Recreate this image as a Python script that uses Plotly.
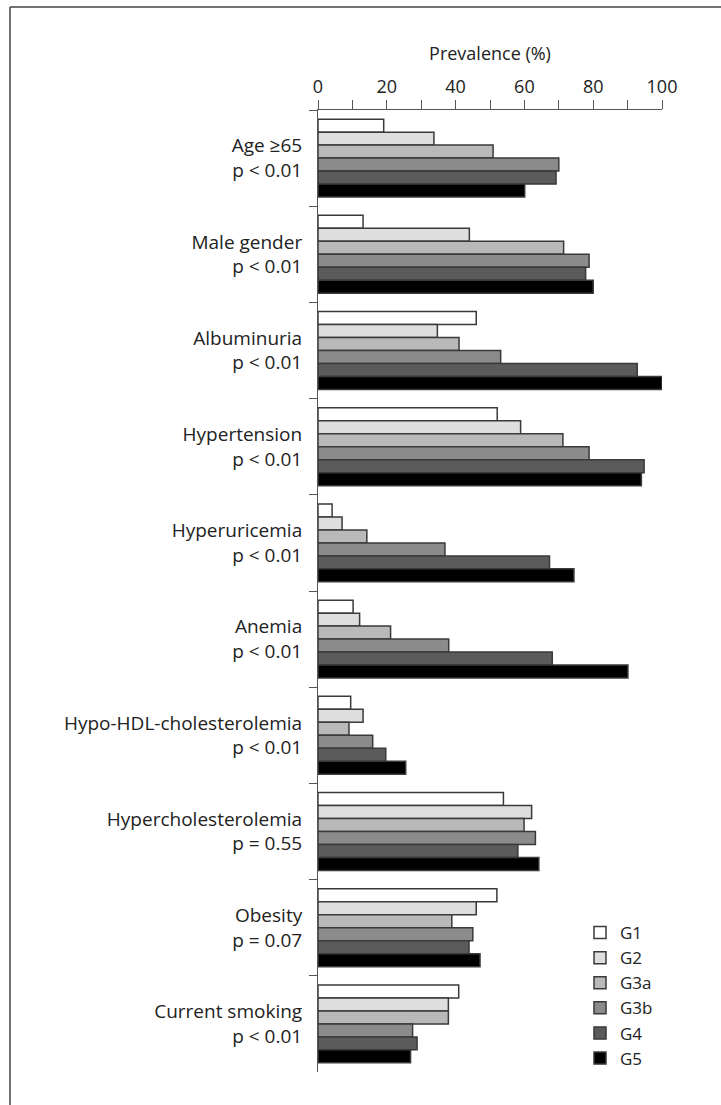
import plotly.graph_objects as go

categories = [
    "Age ≥65<br>p < 0.01",
    "Male gender<br>p < 0.01",
    "Albuminuria<br>p < 0.01",
    "Hypertension<br>p < 0.01",
    "Hyperuricemia<br>p < 0.01",
    "Anemia<br>p < 0.01",
    "Hypo-HDL-cholesterolemia<br>p < 0.01",
    "Hypercholesterolemia<br>p = 0.55",
    "Obesity<br>p = 0.07",
    "Current smoking<br>p < 0.01",
]

groups = ["G1", "G2", "G3a", "G3b", "G4", "G5"]

G1 = [19.1, 13.1, 46.0, 52.1, 4.1, 10.2, 9.5, 53.9, 52.0, 40.9]
G2 = [33.7, 44.0, 34.7, 58.9, 7.0, 12.1, 13.1, 62.1, 46.0, 37.9]
G3a = [50.9, 71.4, 41.0, 71.2, 14.2, 21.1, 9.0, 59.9, 38.9, 37.9]
G3b = [70.0, 78.8, 53.1, 78.8, 36.9, 38.0, 15.9, 63.2, 45.0, 27.5]
G4 = [69.2, 77.8, 92.8, 94.8, 67.3, 68.1, 19.7, 58.1, 43.9, 28.8]
G5 = [60.1, 80.0, 100.0, 94.0, 74.4, 90.1, 25.5, 64.2, 47.1, 26.9]

series = [G1, G2, G3a, G3b, G4, G5]
colors = ["#ffffff", "#dedede", "#b9b9b9", "#8b8b8b", "#5b5b5b", "#000000"]

x_ticks = [0, 20, 40, 60, 80, 100]

FONT = "Open Sans"
TXT = "#222222"

fig = go.Figure()
for name, vals, col in zip(groups, series, colors):
    fig.add_trace(go.Bar(
        y=categories, x=vals, name=name, orientation="h",
        marker=dict(color=col, line=dict(color="#3a3a3a", width=1.5)),
    ))

W, H = 721, 1105
L, R, T, B = 318, 59, 110, 33
pw, ph = W - L - R, H - T - B


def px2paper(x, y):
    return (x - L) / pw, 1 - (y - T) / ph


x0, y0 = px2paper(10, 7)
x1, _ = px2paper(721, 7)
_, y1 = px2paper(10, 1105)
fig.add_shape(type="line", xref="paper", yref="paper", x0=x0, y0=y0, x1=x1, y1=y0,
              line=dict(color="#444444", width=1.5))
fig.add_shape(type="line", xref="paper", yref="paper", x0=x0, y0=y0, x1=x0, y1=y1,
              line=dict(color="#444444", width=1.5))

lx, ly = px2paper(580, 915)

fig.update_layout(
    width=W, height=H,
    margin=dict(l=L, r=R, t=T, b=B, pad=0),
    paper_bgcolor="white", plot_bgcolor="white",
    barmode="group", bargap=0.19, bargroupgap=0,
    font=dict(family=FONT, size=19, color=TXT),
    showlegend=True,
    legend=dict(x=lx, y=ly, xanchor="left", yanchor="top",
                font=dict(family=FONT, size=17, color=TXT),
                bgcolor="rgba(0,0,0,0)", tracegroupgap=0),
    xaxis=dict(
        side="top", range=[0, 100], tickvals=x_ticks,
        showline=True, linecolor="#555555", linewidth=1,
        ticks="outside", ticklen=9, tickcolor="#555555", tickwidth=1,
        minor=dict(dtick=10, ticks="outside", ticklen=9, tickcolor="#555555", tickwidth=1),
        showgrid=False, zeroline=False,
        tickfont=dict(family=FONT, size=18, color=TXT),
        title=dict(text="Prevalence (%)", font=dict(family=FONT, size=18, color=TXT), standoff=8),
        fixedrange=True,
    ),
    yaxis=dict(
        type="category", range=[9.5, -0.5],
        showline=True, linecolor="#555555", linewidth=1,
        ticks="outside", tickson="boundaries", ticklen=8, tickcolor="#555555", tickwidth=1,
        showgrid=False, zeroline=False,
        tickfont=dict(family=FONT, size=19, color=TXT),
        ticklabelstandoff=11,
        fixedrange=True,
    ),
)

fig.write_html("out.html", config={"displayModeBar": False},
               post_script="document.body.style.margin='0';")
